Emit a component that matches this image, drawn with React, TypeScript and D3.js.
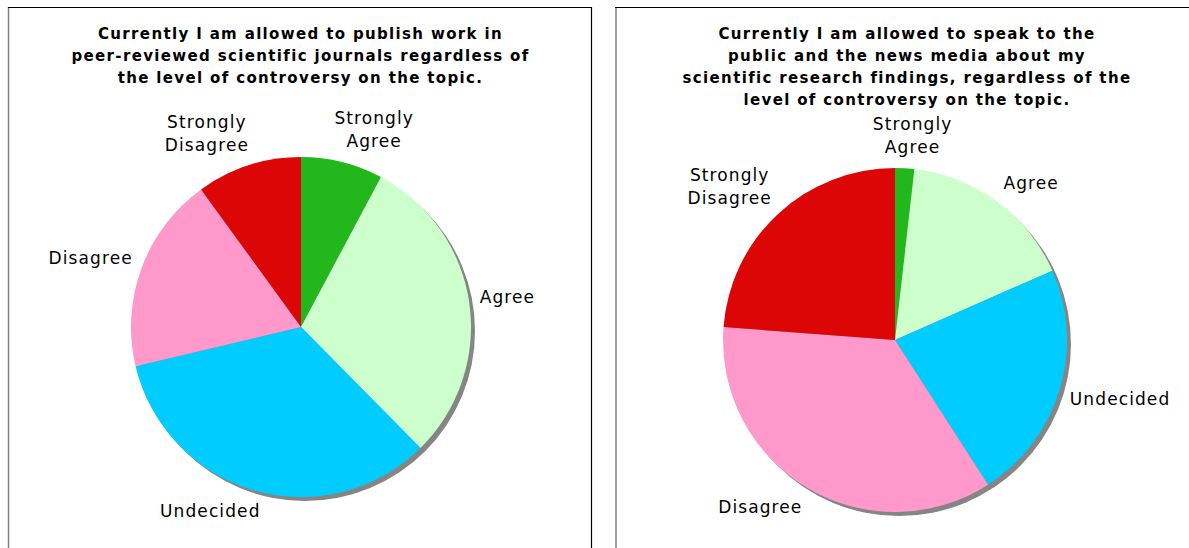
import * as d3 from "d3";

const categories = ["Strongly Agree", "Agree", "Undecided", "Disagree", "Strongly Disagree"];
const labelLines = [["Strongly", "Agree"], ["Agree"], ["Undecided"], ["Disagree"], ["Strongly", "Disagree"]];
const colors = ["#22b81b", "#ccffcc", "#00ccff", "#ff99cc", "#dd0606"];

const publishValues = [7.8, 29.8, 33.7, 18.7, 10.0];
const speakValues = [1.8, 16.6, 22.5, 35.3, 23.8];

const publishTitle = [
  "Currently I am allowed to publish work in",
  "peer-reviewed scientific journals regardless of",
  "the level of controversy on the topic.",
];
const speakTitle = [
  "Currently I am allowed to speak to the",
  "public and the news media about my",
  "scientific research findings, regardless of the",
  "level of controversy on the topic.",
];

const W = 1189;
const H = 548;
const labelFont = 17;
const labelSpacing = 1.1;
const lineH = 23;
const fontFamily = "'DejaVu Sans', Verdana, sans-serif";

let ctx: CanvasRenderingContext2D | null = null;
const measure = (s: string) => {
  if (!ctx) ctx = document.createElement("canvas").getContext("2d");
  if (!ctx) return s.length * labelFont * 0.65;
  ctx.font = `${labelFont}px ${fontFamily}`;
  return ctx.measureText(s).width + s.length * labelSpacing;
};

type PieProps = {
  values: number[];
  title: string[];
  cx: number;
  cy: number;
  r: number;
  titleX: number;
};

const Pie = ({ values, title, cx, cy, r, titleX }: PieProps) => {
  const pie = d3
    .pie<number>()
    .sort(null)
    .value((d) => d);
  const arcs = pie(values);
  const arc = d3.arc<d3.PieArcDatum<number>>().innerRadius(0).outerRadius(r);

  return (
    <g>
      {title.map((t, i) => (
        <text
          key={i}
          x={titleX}
          y={34 + i * 22}
          textAnchor="middle"
          dominantBaseline="central"
          fontFamily={fontFamily}
          fontWeight="bold"
          fontSize={15}
          letterSpacing={1.35}
          fill="#000"
        >
          {t}
        </text>
      ))}
      <circle cx={cx + 4} cy={cy + 4} r={r} fill="#858585" />
      <g transform={`translate(${cx},${cy})`}>
        {arcs.map((a, i) => (
          <path key={i} d={arc(a) ?? undefined} fill={colors[i]} />
        ))}
        {arcs.map((a, i) => {
          const mid = (a.startAngle + a.endAngle) / 2;
          const s = Math.sin(mid);
          const c = Math.cos(mid);
          const lines = labelLines[i];
          const w = Math.max(...lines.map(measure));
          const h = lines.length * lineH;
          const pr = r + 10;
          const x = pr * s + (w / 2) * Math.sign(s) * Math.min(1, Math.abs(s) * 3);
          const y = -pr * c - (h / 2) * Math.sign(c) * Math.sqrt(Math.abs(c));
          return (
            <g key={`l${i}`}>
              {lines.map((ln, j) => (
                <text
                  key={j}
                  x={x + labelSpacing / 2}
                  y={y - h / 2 + lineH / 2 + j * lineH}
                  textAnchor="middle"
                  dominantBaseline="central"
                  fontFamily={fontFamily}
                  fontSize={labelFont}
                  letterSpacing={labelSpacing}
                  fill="#000"
                >
                  {ln}
                </text>
              ))}
            </g>
          );
        })}
      </g>
    </g>
  );
};

const App = () => {
  return (
    <svg
      width={W}
      height={H}
      viewBox={`0 0 ${W} ${H}`}
      style={{ position: "absolute", left: 0, top: 0, background: "#fff" }}
      role="img"
      aria-label={categories.join(", ")}
    >
      <rect x={0} y={0} width={W} height={H} fill="#fff" />
      {/* left panel frame */}
      <line x1={8.5} y1={7} x2={8.5} y2={H} stroke="#808080" strokeWidth={1.5} />
      <line x1={8} y1={7.5} x2={592} y2={7.5} stroke="#000" strokeWidth={1.2} />
      <line x1={591.5} y1={7} x2={591.5} y2={H} stroke="#000" strokeWidth={1.2} />
      {/* right panel frame */}
      <line x1={616} y1={7} x2={616} y2={H} stroke="#808080" strokeWidth={1.5} />
      <line x1={615} y1={7.5} x2={W} y2={7.5} stroke="#000" strokeWidth={1.2} />

      <Pie values={publishValues} title={publishTitle} cx={301} cy={327} r={170} titleX={300.5} />
      <Pie values={speakValues} title={speakTitle} cx={895} cy={340} r={172} titleX={907} />
    </svg>
  );
};

export default App;
